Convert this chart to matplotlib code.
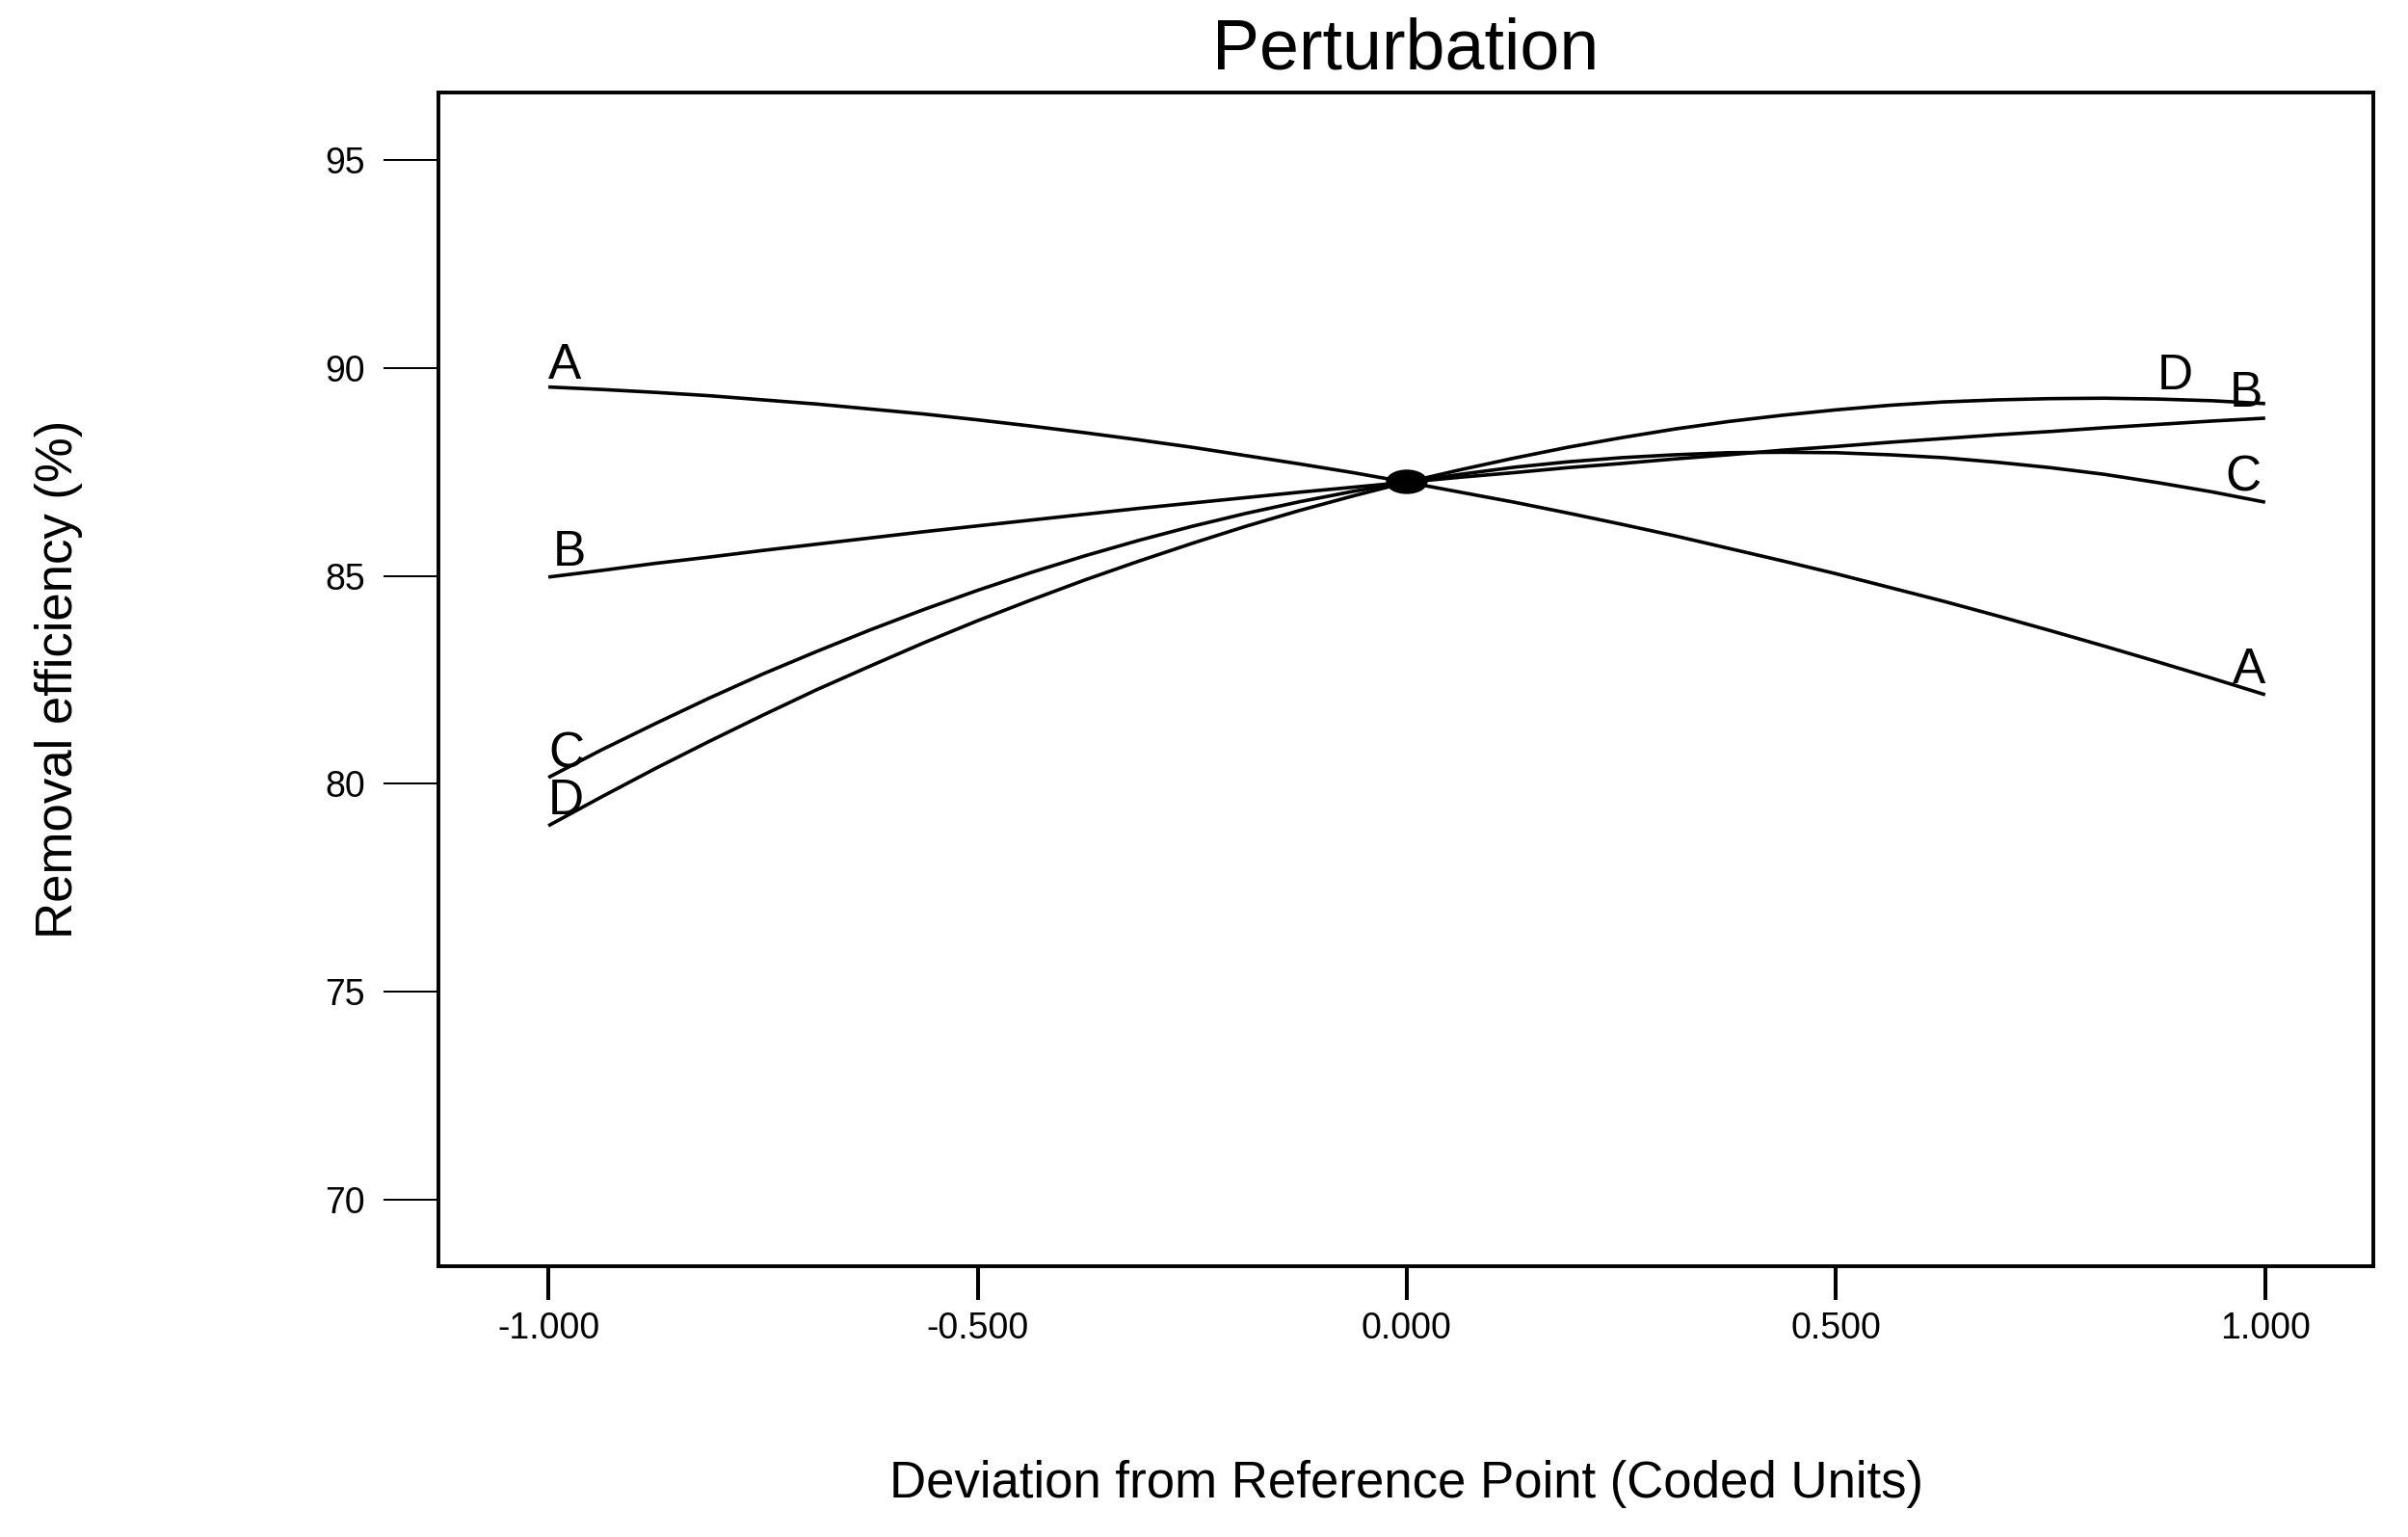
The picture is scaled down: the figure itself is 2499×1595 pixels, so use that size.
import numpy as np
import matplotlib
matplotlib.use("Agg")
import matplotlib.pyplot as plt
from matplotlib.patches import Ellipse

plt.rcParams['font.family'] = ['Liberation Sans', 'DejaVu Sans']

# deviation from reference point (coded units)
dev = [-1.0, -0.9375, -0.875, -0.8125, -0.75, -0.6875, -0.625, -0.5625,
       -0.5, -0.4375, -0.375, -0.3125, -0.25, -0.1875, -0.125, -0.0625, 0.0,
       0.0625, 0.125, 0.1875, 0.25, 0.3125, 0.375, 0.4375, 0.5,
       0.5625, 0.625, 0.6875, 0.75, 0.8125, 0.875, 0.9375, 1.0]

# removal efficiency (%)
eff_A = [89.54, 89.48, 89.41, 89.33, 89.23, 89.13, 89.01, 88.89,
         88.75, 88.60, 88.44, 88.27, 88.09, 87.89, 87.69, 87.48, 87.25,
         87.01, 86.77, 86.51, 86.24, 85.96, 85.66, 85.36, 85.05,
         84.72, 84.39, 84.04, 83.68, 83.31, 82.93, 82.54, 82.14]
eff_B = [84.97, 85.13, 85.30, 85.45, 85.61, 85.76, 85.91, 86.06,
         86.20, 86.34, 86.48, 86.62, 86.75, 86.88, 87.01, 87.13, 87.25,
         87.37, 87.48, 87.60, 87.70, 87.81, 87.91, 88.02, 88.11,
         88.21, 88.30, 88.39, 88.47, 88.56, 88.64, 88.72, 88.79]
eff_C = [80.15, 80.82, 81.45, 82.06, 82.64, 83.18, 83.70, 84.19,
         84.65, 85.08, 85.48, 85.85, 86.19, 86.50, 86.78, 87.03, 87.25,
         87.44, 87.61, 87.74, 87.84, 87.91, 87.96, 87.97, 87.96,
         87.91, 87.84, 87.73, 87.60, 87.44, 87.24, 87.02, 86.77]
eff_D = [78.99, 79.69, 80.37, 81.02, 81.65, 82.26, 82.83, 83.39,
         83.92, 84.42, 84.90, 85.35, 85.78, 86.19, 86.57, 86.92, 87.25,
         87.55, 87.83, 88.09, 88.32, 88.53, 88.71, 88.86, 88.99,
         89.10, 89.18, 89.23, 89.26, 89.27, 89.25, 89.21, 89.14]

names = ['A', 'B', 'C', 'D']
series = [eff_A, eff_B, eff_C, eff_D]

ref_point = (0.0, 87.26)

xticks = [-1.0, -0.5, 0.0, 0.5, 1.0]
xtick_labels = ['-1.000', '-0.500', '0.000', '0.500', '1.000']
yticks = [70, 75, 80, 85, 90, 95]

# label anchors (baseline) at each end of the traces
left_lab = {'A': (-1.0, 89.74), 'B': (-0.995, 85.25), 'C': (-1.0, 80.40), 'D': (-1.0, 79.27)}
right_lab = {'A': (1.0, 82.42), 'B': (0.997, 89.07), 'C': (0.995, 87.05), 'D': (0.916, 89.49)}

fig = plt.figure(figsize=(24.99, 15.95), dpi=100)
ax = fig.add_axes([0.1821, 0.1762, 0.8035, 0.7636])

for name, vals in zip(names, series):
    ax.plot(dev, vals, color='black', lw=2.6, solid_capstyle='butt')
    lx, ly = left_lab[name]
    ax.text(lx, ly, name, fontsize=37, ha='left', va='baseline')
    rx, ry = right_lab[name]
    ax.text(rx, ry, name, fontsize=37, ha='right', va='baseline')

ax.add_patch(Ellipse(ref_point, width=0.047, height=0.556, color='black', zorder=5))

ax.set_xlim(-1.128, 1.126)
ax.set_ylim(68.40, 96.62)

ax.set_xticks(xticks)
ax.set_xticklabels(xtick_labels)
ax.set_yticks(yticks)
ax.tick_params(axis='x', direction='out', length=25, width=2.9, pad=9, labelsize=27)
ax.tick_params(axis='y', direction='out', length=41, width=1.45, pad=14, labelsize=27)

for sp in ax.spines.values():
    sp.set_linewidth(2.8)

ax.set_title('Perturbation', fontsize=53, pad=18)
ax.set_xlabel('Deviation from Reference Point (Coded Units)', fontsize=38)
ax.xaxis.set_label_coords(0.5, -0.165)
ax.set_ylabel('Removal efficiency (%)', fontsize=38)
ax.yaxis.set_label_coords(-0.184, 0.5)

fig.savefig('out.png', dpi=100, facecolor='white')
